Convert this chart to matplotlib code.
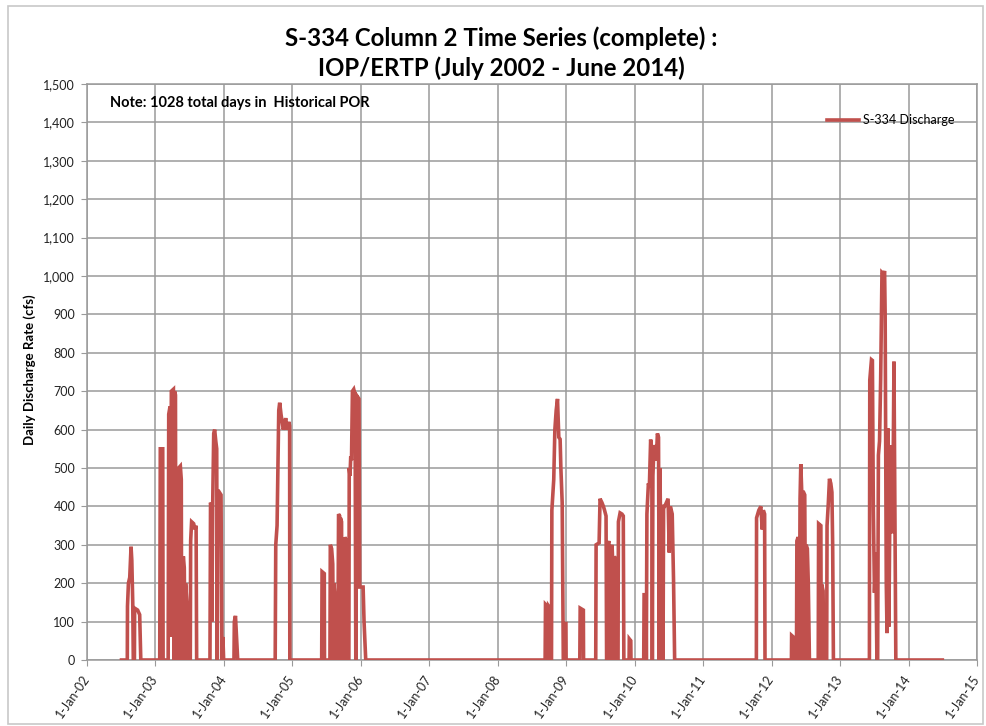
import matplotlib
matplotlib.use("Agg")
import matplotlib.pyplot as plt
from matplotlib.ticker import FuncFormatter, MultipleLocator
from matplotlib.patches import Rectangle
import matplotlib.transforms as mtransforms
import pandas as pd

# ---------------- data ----------------
ep2002_dates = ["2002-07-04", "2002-08-04", "2002-08-05", "2002-08-10", "2002-08-17", "2002-08-24",
                "2002-08-28", "2002-09-02", "2002-09-05", "2002-09-11", "2002-09-12", "2002-09-28",
                "2002-10-09", "2002-10-15"]
ep2002_vals = [0, 0, 140, 200, 215, 295, 260, 150, 0, 0, 135, 130, 118, 0]

ep2003a_dates = ["2003-01-24", "2003-01-27", "2003-02-09", "2003-02-11", "2003-03-10", "2003-03-13",
                 "2003-03-20", "2003-03-22", "2003-03-27", "2003-04-07", "2003-04-10", "2003-04-13",
                 "2003-04-18", "2003-04-20", "2003-05-02", "2003-05-05", "2003-05-14", "2003-05-19",
                 "2003-05-21", "2003-05-24", "2003-05-27", "2003-05-30", "2003-06-04", "2003-06-08",
                 "2003-06-11", "2003-06-18", "2003-06-21", "2003-06-24", "2003-07-01", "2003-07-03",
                 "2003-07-06", "2003-07-08", "2003-07-13", "2003-07-24", "2003-07-31", "2003-08-06",
                 "2003-08-09"]
ep2003a_vals = [0, 550, 550, 0, 0, 640, 660, 60, 700, 705, 0, 700, 690, 0, 0, 500, 505, 470,
                0, 0, 230, 270, 240, 0, 200, 150, 0, 110, 105, 0, 0, 310, 360, 355, 340, 350, 0]

ep2003b_dates = ["2003-10-19", "2003-10-22", "2003-10-27", "2003-10-29", "2003-11-03", "2003-11-08",
                 "2003-11-13", "2003-11-19", "2003-11-24", "2003-11-27", "2003-11-30", "2003-12-04",
                 "2003-12-17", "2003-12-22", "2003-12-27", "2003-12-31", "2004-02-24", "2004-02-26",
                 "2004-03-03", "2004-03-15"]
ep2003b_vals = [0, 410, 400, 100, 420, 590, 600, 570, 550, 0, 440, 440, 430, 0, 60, 0, 0, 100, 115, 0]

ep2004_dates = ["2004-10-01", "2004-10-04", "2004-10-11", "2004-10-20", "2004-10-25", "2004-11-01",
                "2004-11-07", "2004-11-13", "2004-11-19", "2004-11-26", "2004-12-02", "2004-12-13",
                "2004-12-17", "2004-12-18"]
ep2004_vals = [0, 300, 350, 650, 670, 640, 620, 600, 610, 630, 600, 620, 610, 0]

ep2005_dates = ["2005-06-06", "2005-06-08", "2005-06-20", "2005-06-21", "2005-07-20", "2005-07-22",
                "2005-07-29", "2005-08-04", "2005-08-08", "2005-08-10", "2005-08-18", "2005-08-21",
                "2005-08-31", "2005-09-04", "2005-09-10", "2005-09-12", "2005-09-14", "2005-09-20",
                "2005-09-22", "2005-10-06", "2005-10-08", "2005-10-15", "2005-10-18", "2005-10-29",
                "2005-10-31", "2005-11-04", "2005-11-08", "2005-11-12", "2005-11-17", "2005-11-24",
                "2005-12-01", "2005-12-05", "2005-12-08", "2005-12-22", "2005-12-26", "2006-01-13",
                "2006-01-18", "2006-01-27"]
ep2005_vals = [0, 230, 225, 0, 0, 300, 290, 250, 0, 200, 150, 0, 0, 380, 375, 0, 370, 360, 0,
               0, 320, 310, 0, 0, 500, 480, 530, 520, 700, 705, 690, 0, 690, 680, 190, 190, 100, 0]

ep2008_dates = ["2008-09-10", "2008-09-12", "2008-09-22", "2008-09-24", "2008-09-27", "2008-09-29",
                "2008-10-06", "2008-10-07", "2008-10-14", "2008-10-16", "2008-10-21", "2008-10-26",
                "2008-11-01", "2008-11-08", "2008-11-15", "2008-11-22", "2008-11-29", "2008-12-03",
                "2008-12-10", "2008-12-16", "2008-12-22", "2008-12-23", "2008-12-30", "2008-12-31"]
ep2008_vals = [0, 145, 140, 0, 0, 140, 135, 0, 0, 390, 430, 470, 600, 650, 680, 580, 575, 500,
               410, 0, 0, 95, 95, 0]

ep2009_dates = ["2009-03-14", "2009-03-16", "2009-04-02", "2009-04-03", "2009-06-07", "2009-06-09",
                "2009-06-25", "2009-06-30", "2009-07-10", "2009-07-18", "2009-07-24", "2009-08-01",
                "2009-08-04", "2009-08-08", "2009-08-10", "2009-08-16", "2009-08-20", "2009-08-23",
                "2009-08-27", "2009-09-02", "2009-09-06", "2009-09-10", "2009-09-14", "2009-09-22",
                "2009-09-27", "2009-10-04", "2009-10-06", "2009-10-15", "2009-10-25", "2009-11-01",
                "2009-11-04", "2009-12-02", "2009-12-03", "2009-12-11", "2009-12-12"]
ep2009_vals = [0, 135, 130, 0, 0, 300, 305, 420, 410, 400, 390, 375, 0, 0, 300, 310, 200, 0,
               280, 300, 250, 0, 270, 260, 0, 0, 360, 383, 380, 375, 0, 0, 55, 50, 0]

ep2010_dates = ["2010-02-18", "2010-02-20", "2010-03-02", "2010-03-04", "2010-03-07", "2010-03-15",
                "2010-03-20", "2010-03-27", "2010-04-02", "2010-04-05", "2010-04-08", "2010-04-14",
                "2010-04-20", "2010-04-27", "2010-05-02", "2010-05-08", "2010-05-12", "2010-05-15",
                "2010-05-20", "2010-05-24", "2010-05-28", "2010-06-01", "2010-06-04", "2010-06-10",
                "2010-06-19", "2010-06-28", "2010-07-04", "2010-07-10", "2010-07-20", "2010-07-27",
                "2010-08-02"]
ep2010_vals = [0, 170, 170, 0, 380, 460, 450, 574, 540, 0, 480, 560, 520, 530, 590, 580, 0, 500,
               330, 260, 310, 0, 400, 400, 410, 420, 280, 400, 380, 210, 0]

ep2011_dates = ["2011-10-12", "2011-10-13", "2011-10-25", "2011-11-05", "2011-11-12", "2011-11-18",
                "2011-11-25", "2011-11-27"]
ep2011_vals = [0, 370, 390, 400, 340, 390, 380, 0]

ep2012_dates = ["2012-04-16", "2012-04-17", "2012-04-26", "2012-04-27", "2012-05-13", "2012-05-15",
                "2012-05-22", "2012-05-25", "2012-05-28", "2012-06-01", "2012-06-05", "2012-06-10",
                "2012-06-14", "2012-06-17", "2012-06-26", "2012-07-01", "2012-07-03", "2012-07-10",
                "2012-07-15", "2012-07-21", "2012-09-06", "2012-09-08", "2012-09-20", "2012-09-22",
                "2012-09-24", "2012-10-02", "2012-10-05", "2012-10-21", "2012-10-23", "2012-10-30",
                "2012-11-05", "2012-11-12", "2012-11-18", "2012-11-22", "2012-11-26"]
ep2012_vals = [0, 64, 60, 0, 0, 310, 320, 0, 0, 420, 510, 437, 0, 440, 430, 0, 300, 290, 200, 0,
               0, 355, 350, 0, 197, 180, 0, 0, 350, 410, 472, 460, 437, 300, 0]

ep2013_dates = ["2013-06-06", "2013-06-08", "2013-06-13", "2013-06-17", "2013-06-22", "2013-06-27",
                "2013-07-03", "2013-07-10", "2013-07-16", "2013-07-20", "2013-07-24", "2013-07-30",
                "2013-08-05", "2013-08-12", "2013-08-20", "2013-08-26", "2013-08-29", "2013-09-04",
                "2013-09-08", "2013-09-13", "2013-09-18", "2013-09-26", "2013-10-02", "2013-10-08",
                "2013-10-15", "2013-10-20", "2013-10-25", "2014-06-30"]
ep2013_vals = [0, 729, 760, 782, 780, 393, 175, 280, 0, 0, 533, 570, 730, 1009, 1005, 1013, 900,
               200, 70, 603, 87, 559, 400, 330, 777, 400, 0, 0]

x_ticks = ["2002-01-01", "2003-01-01", "2004-01-01", "2005-01-01", "2006-01-01", "2007-01-01",
           "2008-01-01", "2009-01-01", "2010-01-01", "2011-01-01", "2012-01-01", "2013-01-01",
           "2014-01-01", "2015-01-01"]
x_tick_labels = ["1-Jan-02", "1-Jan-03", "1-Jan-04", "1-Jan-05", "1-Jan-06", "1-Jan-07",
                 "1-Jan-08", "1-Jan-09", "1-Jan-10", "1-Jan-11", "1-Jan-12", "1-Jan-13",
                 "1-Jan-14", "1-Jan-15"]

title = "S-334 Column 2 Time Series (complete) :\nIOP/ERTP (July 2002 - June 2014)"
series_name = "S-334 Discharge"
note = "Note: 1028 total days in  Historical POR"
y_label = "Daily Discharge Rate (cfs)"

# ---------------- assemble ----------------
all_dates = (ep2002_dates + ep2003a_dates + ep2003b_dates + ep2004_dates + ep2005_dates +
             ep2008_dates + ep2009_dates + ep2010_dates + ep2011_dates + ep2012_dates + ep2013_dates)
all_vals = (ep2002_vals + ep2003a_vals + ep2003b_vals + ep2004_vals + ep2005_vals +
            ep2008_vals + ep2009_vals + ep2010_vals + ep2011_vals + ep2012_vals + ep2013_vals)
dates = pd.to_datetime(all_dates)

plt.rcParams['font.family'] = ['Lato', 'DejaVu Sans']

fig = plt.figure(figsize=(9.87, 7.26), dpi=100)
ax = fig.add_axes([87 / 987, 1 - 660 / 726, (977 - 87) / 987, (660 - 84) / 726])

grid_c = "#9a9a9a"
line_c = "#C0504D"

ax.plot(dates, all_vals, color=line_c, lw=2.6, solid_joinstyle='miter', label=series_name, zorder=3)

xt = pd.to_datetime(x_ticks)
ax.set_xlim(xt[0], xt[-1])
ax.set_ylim(0, 1500)
ax.set_xticks(xt)
ax.set_xticklabels(x_tick_labels, rotation=55, ha='right', va='center', rotation_mode='anchor',
                   fontsize=9, color='#222222')
offset = mtransforms.ScaledTranslation(4 / 100, 0, fig.dpi_scale_trans)
for lbl in ax.get_xticklabels():
    lbl.set_transform(lbl.get_transform() + offset)
ax.yaxis.set_major_locator(MultipleLocator(100))
ax.yaxis.set_major_formatter(FuncFormatter(lambda v, p: f"{int(v):,}"))
ax.tick_params(axis='y', labelsize=9, length=4.5, color=grid_c, labelcolor='#222222', pad=4)
ax.tick_params(axis='x', length=4.5, color=grid_c, pad=7)

ax.grid(True, color=grid_c, lw=1.1)
ax.set_axisbelow(True)
for s in ax.spines.values():
    s.set_color(grid_c)
    s.set_linewidth(1.1)

fig.text(30 / 987, 1 - 370 / 726, y_label, rotation=90, ha='center', va='center',
         fontsize=9.5, fontweight='bold')

fig.text(501 / 987, 1 - 53 / 726, title, ha='center', va='center', fontsize=17.3, fontweight='bold',
         linespacing=1.3)

fig.text(110 / 987, 1 - 103 / 726, note, fontsize=10.5, fontweight='bold', va='center', ha='left')

leg = ax.legend(loc='upper left', bbox_to_anchor=(822 / 987, 1 - 109 / 726),
                bbox_transform=fig.transFigure, frameon=False, fontsize=9,
                handlelength=2.6, handletextpad=0.3, borderaxespad=0)

fig.patches.append(Rectangle((8 / 987, 2 / 726), 975 / 987, 718 / 726, transform=fig.transFigure,
                             fill=False, edgecolor='#c8c8c8', lw=1.2))

fig.savefig("out.png", dpi=100)
